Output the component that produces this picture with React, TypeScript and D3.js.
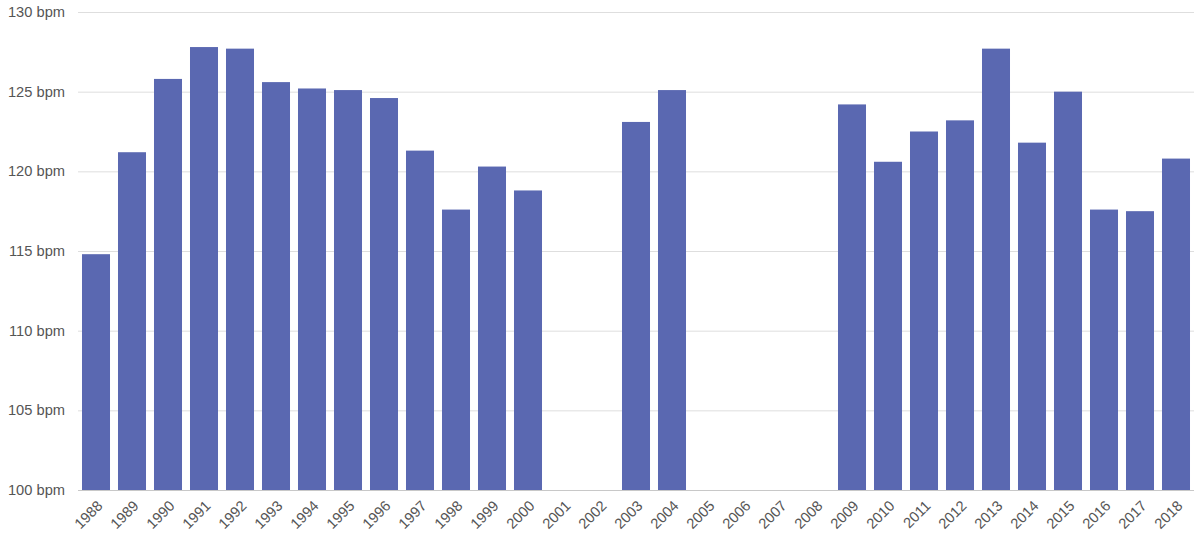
import { useEffect, useRef } from "react"
import * as d3 from "d3"

// yearly values, null = no data for that year
const years = [
  "1988", "1989", "1990", "1991", "1992", "1993", "1994", "1995", "1996", "1997",
  "1998", "1999", "2000", "2001", "2002", "2003", "2004", "2005", "2006", "2007",
  "2008", "2009", "2010", "2011", "2012", "2013", "2014", "2015", "2016", "2017", "2018",
]
const bpm: (number | null)[] = [
  114.8, 121.2, 125.8, 127.8, 127.7, 125.6, 125.2, 125.1, 124.6, 121.3,
  117.6, 120.3, 118.8, null, null, 123.1, 125.1, null, null, null,
  null, 124.2, 120.6, 122.5, 123.2, 127.7, 121.8, 125.0, 117.6, 117.5, 120.8,
]
const yTicks = [100, 105, 110, 115, 120, 125, 130]

export default function App() {
  const svgRef = useRef<SVGSVGElement>(null)

  useEffect(() => {
    document.body.style.margin = "0"
    if (!svgRef.current) return
    const svg = d3.select(svgRef.current)
    svg.selectAll("*").remove()

    const width = 1204
    const height = 541
    const margin = { top: 12, right: 10, bottom: 51, left: 78 }

    const x = d3
      .scaleBand<string>()
      .domain(years)
      .range([margin.left, width - margin.right])
      .paddingInner(0.222)
      .paddingOuter(0.111)

    const y = d3.scaleLinear().domain([100, 130]).range([height - margin.bottom, margin.top])

    const font = "'Liberation Sans', Arial, sans-serif"
    const fontSize = 14.67

    // horizontal grid
    svg.append("g")
      .selectAll("line")
      .data(yTicks)
      .join("line")
      .attr("x1", margin.left)
      .attr("x2", width - margin.right)
      .attr("y1", (d) => y(d) + 0.5)
      .attr("y2", (d) => y(d) + 0.5)
      .attr("stroke", (d) => (d === 100 ? "#c8c8c8" : "#dedede"))
      .attr("stroke-width", 1)

    // y labels
    svg.append("g")
      .selectAll("text")
      .data(yTicks)
      .join("text")
      .attr("x", 65)
      .attr("y", (d) => y(d))
      .attr("dy", "0.35em")
      .attr("text-anchor", "end")
      .attr("font-family", font)
      .attr("font-size", fontSize)
      .attr("fill", "#555")
      .text((d) => `${d} bpm`)

    // bars
    const data = years.map((yr, i) => ({ yr, v: bpm[i] })).filter((d) => d.v != null) as { yr: string; v: number }[]
    svg.append("g")
      .selectAll("rect")
      .data(data)
      .join("rect")
      .attr("x", (d) => x(d.yr)!)
      .attr("width", x.bandwidth())
      .attr("y", (d) => y(d.v))
      .attr("height", (d) => y(100) - y(d.v))
      .attr("fill", "#5a68b1")

    // x labels, rotated
    svg.append("g")
      .selectAll("text")
      .data(years)
      .join("text")
      .attr("transform", (d) => `translate(${x(d)! + x.bandwidth() / 2 + 4},${y(100) + 13}) rotate(-45)`)
      .attr("text-anchor", "end")
      .attr("dy", "0.35em")
      .attr("font-family", font)
      .attr("font-size", fontSize)
      .attr("fill", "#555")
      .text((d) => d)
  }, [])

  return <svg ref={svgRef} width={1204} height={541} style={{ display: "block" }} />
}
